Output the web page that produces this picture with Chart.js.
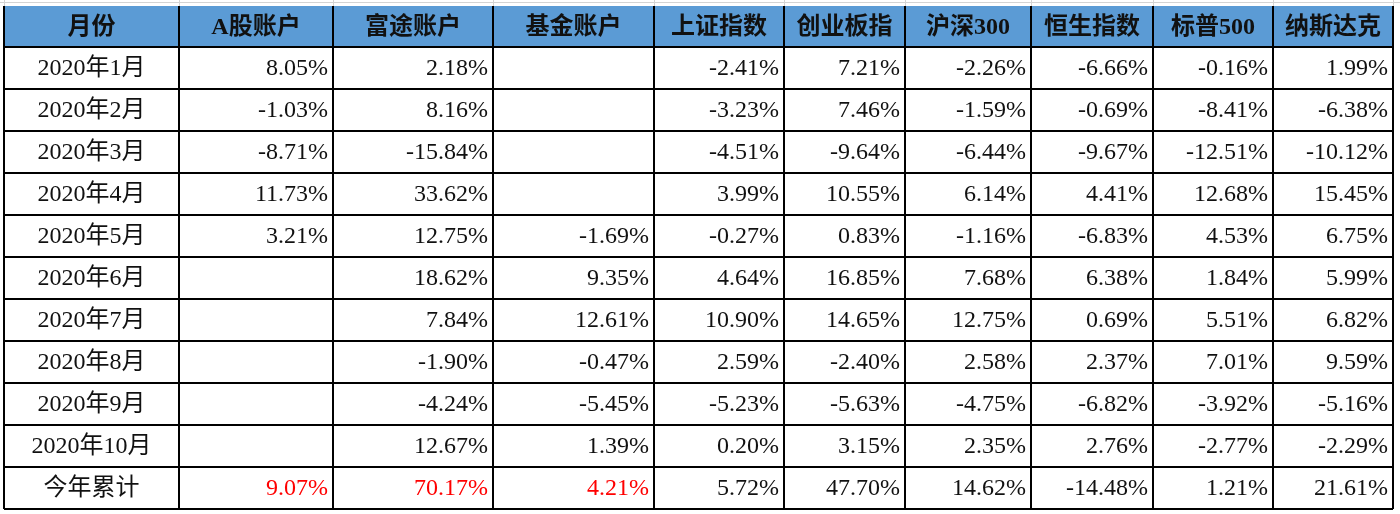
<!DOCTYPE html>
<html><head><meta charset="utf-8">
<script src="https://cdn.jsdelivr.net/npm/chart.js"></script>
<style>html,body{margin:0;padding:0;background:#fff}#c{display:block}</style>
</head><body>
<div style="width:1400px;height:514px"><canvas id="c"></canvas></div>
<script>
const headers = ["月份","A股账户","富途账户","基金账户","上证指数","创业板指","沪深300","恒生指数","标普500","纳斯达克"];
const months = ["2020年1月","2020年2月","2020年3月","2020年4月","2020年5月","2020年6月","2020年7月","2020年8月","2020年9月","2020年10月","今年累计"];
const aShare  = [8.05,-1.03,-8.71,11.73,3.21,null,null,null,null,null,9.07];
const futu    = [2.18,8.16,-15.84,33.62,12.75,18.62,7.84,-1.90,-4.24,12.67,70.17];
const fund    = [null,null,null,null,-1.69,9.35,12.61,-0.47,-5.45,1.39,4.21];
const sse     = [-2.41,-3.23,-4.51,3.99,-0.27,4.64,10.90,2.59,-5.23,0.20,5.72];
const chinext = [7.21,7.46,-9.64,10.55,0.83,16.85,14.65,-2.40,-5.63,3.15,47.70];
const csi300  = [-2.26,-1.59,-6.44,6.14,-1.16,7.68,12.75,2.58,-4.75,2.35,14.62];
const hsi     = [-6.66,-0.69,-9.67,4.41,-6.83,6.38,0.69,2.37,-6.82,2.76,-14.48];
const sp500   = [-0.16,-8.41,-12.51,12.68,4.53,1.84,5.51,7.01,-3.92,-2.77,1.21];
const nasdaq  = [1.99,-6.38,-10.12,15.45,6.75,5.99,6.82,9.59,-5.16,-2.29,21.61];
const series = [aShare,futu,fund,sse,chinext,csi300,hsi,sp500,nasdaq];

// layout (pixel-space scale units)
const colEdges = [4,179,333,493,654,784,905,1031,1153,1273,1393];
const rowEdges = [6,47,89,131,173,215,257,299,341,383,425,467,509];

const tablePlugin = {
  id:'table',
  afterDraw(chart){
    const ctx = chart.ctx, xs = chart.scales.x, ys = chart.scales.y;
    const X = v=>xs.getPixelForValue(v), Y = v=>ys.getPixelForValue(v);
    // outer spreadsheet gridlines
    ctx.save();
    ctx.strokeStyle='#d4d4d4'; ctx.lineWidth=1;
    ctx.beginPath(); ctx.moveTo(0,Y(2.5)); ctx.lineTo(1400,Y(2.5)); ctx.stroke();
    colEdges.forEach(c=>{ctx.beginPath();ctx.moveTo(X(c)+0.5,0);ctx.lineTo(X(c)+0.5,Y(6));ctx.stroke();});
    // header bg
    ctx.fillStyle='#5b9bd5';
    ctx.fillRect(X(colEdges[0]),Y(rowEdges[0]),X(colEdges[10])-X(colEdges[0]),Y(rowEdges[1])-Y(rowEdges[0]));
    // grid
    ctx.strokeStyle='#000'; ctx.lineWidth=2;
    rowEdges.forEach((r,i)=>{ if(i===0) return; ctx.beginPath();ctx.moveTo(X(colEdges[0]),Y(r));ctx.lineTo(X(colEdges[10]),Y(r));ctx.stroke();});
    colEdges.forEach(c=>{ctx.beginPath();ctx.moveTo(X(c),Y(rowEdges[0]));ctx.lineTo(X(c),Y(rowEdges[12]));ctx.stroke();});
    // header text
    ctx.textBaseline='middle';
    ctx.fillStyle='#111';
    ctx.font='bold 24px "Liberation Serif","Noto Sans CJK SC"';
    ctx.textAlign='center';
    headers.forEach((h,i)=>{
      ctx.fillText(h,(X(colEdges[i])+X(colEdges[i+1]))/2,(Y(rowEdges[0])+Y(rowEdges[1]))/2+1);
    });
    ctx.font='24px "Liberation Serif","Noto Sans CJK SC"';
    months.forEach((m,r)=>{
      const cy=(Y(rowEdges[r+1])+Y(rowEdges[r+2]))/2+1;
      ctx.textAlign='center'; ctx.fillStyle='#111';
      ctx.fillText(m,(X(colEdges[0])+X(colEdges[1]))/2,cy);
      ctx.textAlign='right';
      series.forEach((s,c)=>{
        const v=s[r]; if(v===null) return;
        ctx.fillStyle=(r===months.length-1 && c<3)?'#ff0000':'#111';
        ctx.fillText(v.toFixed(2)+'%',X(colEdges[c+2])-5,cy);
      });
    });
    ctx.restore();
  }
};

new Chart(document.getElementById('c'),{
  type:'scatter',
  data:{datasets:[{data:[],pointRadius:0}]},
  options:{
    responsive:true, maintainAspectRatio:false, animation:false,
    layout:{padding:0},
    plugins:{legend:{display:false},tooltip:{enabled:false}},
    scales:{
      x:{type:'linear',min:0,max:1400,display:false},
      y:{type:'linear',min:0,max:514,reverse:true,display:false}
    }
  },
  plugins:[tablePlugin]
});
</script>
</body></html>
